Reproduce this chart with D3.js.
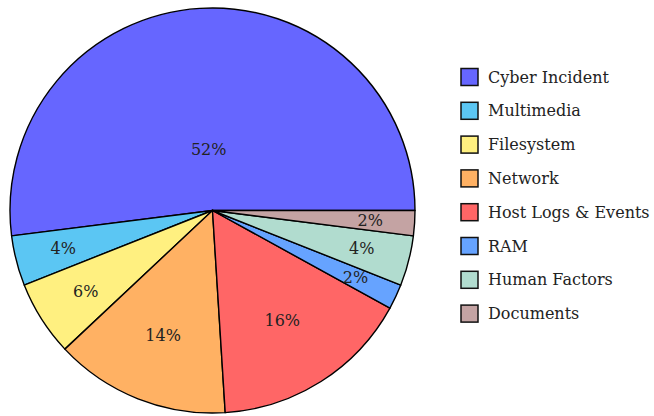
<!DOCTYPE html>
<meta charset="utf-8">
<style>
body { margin: 0; background: #fff; }
text { font-family: "DejaVu Serif", serif; fill: #222; }
</style>
<body>
<script src="https://d3js.org/d3.v7.min.js"></script>
<script>
// slice names, share (%) and fill, counter-clockwise from 3 o'clock
const categories = ["Cyber Incident", "Multimedia", "Filesystem", "Network",
                    "Host Logs & Events", "RAM", "Human Factors", "Documents"];
const shares = [52, 4, 6, 14, 16, 2, 4, 2];
const colors = ["#6666ff", "#5bc6f3", "#fff080", "#ffb163",
                "#ff6666", "#66a3ff", "#b1dccf", "#c4a3a3"];

var W = 654, H = 416;
var cx = 212.5, cy = 210.5, r = 202.5;

var svg = d3.select("body").append("svg")
    .attr("width", W)
    .attr("height", H);

var data = categories.map(function(c, i) { return {name: c, value: shares[i], color: colors[i]}; });

// d3.pie goes clockwise from 12 o'clock; map to ccw from 3 o'clock
var pie = d3.pie().sort(null).value(function(d) { return d.value; })
    .startAngle(Math.PI / 2).endAngle(Math.PI / 2 - 2 * Math.PI);

var arcs = pie(data);
var arc = d3.arc().innerRadius(0).outerRadius(r);

var g = svg.append("g").attr("transform", "translate(" + cx + "," + cy + ")");

g.selectAll("path.slice")
  .data(arcs)
  .enter().append("path")
    .attr("class", "slice")
    .attr("d", arc)
    .style("fill", function(d) { return d.data.color; })
    .style("stroke", "#000")
    .style("stroke-width", 1.4)
    .style("stroke-linejoin", "round");

// label radius shrinks for wide slices
g.selectAll("text.pct")
  .data(arcs)
  .enter().append("text")
    .attr("class", "pct")
    .attr("text-anchor", "middle")
    .attr("dy", "0.35em")
    .style("font-size", "16px")
    .attr("transform", function(d) {
      var span = Math.abs(d.endAngle - d.startAngle) * 180 / Math.PI;
      var k = Math.max(Math.min(-0.3 * span / 110, 0), -0.5) + 0.8;
      var a = (d.startAngle + d.endAngle) / 2;
      return "translate(" + (Math.sin(a) * r * k) + "," + (-Math.cos(a) * r * k) + ")";
    })
    .text(function(d) { return d.data.value + "%"; });

// legend
var legend = svg.selectAll(".legend")
    .data(data)
  .enter().append("g")
    .attr("class", "legend")
    .attr("transform", function(d, i) { return "translate(461," + (77 + i * 33.8) + ")"; });

legend.append("rect")
    .attr("x", 0)
    .attr("y", -8.5)
    .attr("width", 17)
    .attr("height", 17)
    .style("fill", function(d) { return d.color; })
    .style("stroke", "#111")
    .style("stroke-width", 1.5);

legend.append("text")
    .attr("x", 27)
    .attr("y", 0)
    .attr("dy", "0.35em")
    .style("font-size", "16px")
    .text(function(d) { return d.name; });
</script>
</body>
